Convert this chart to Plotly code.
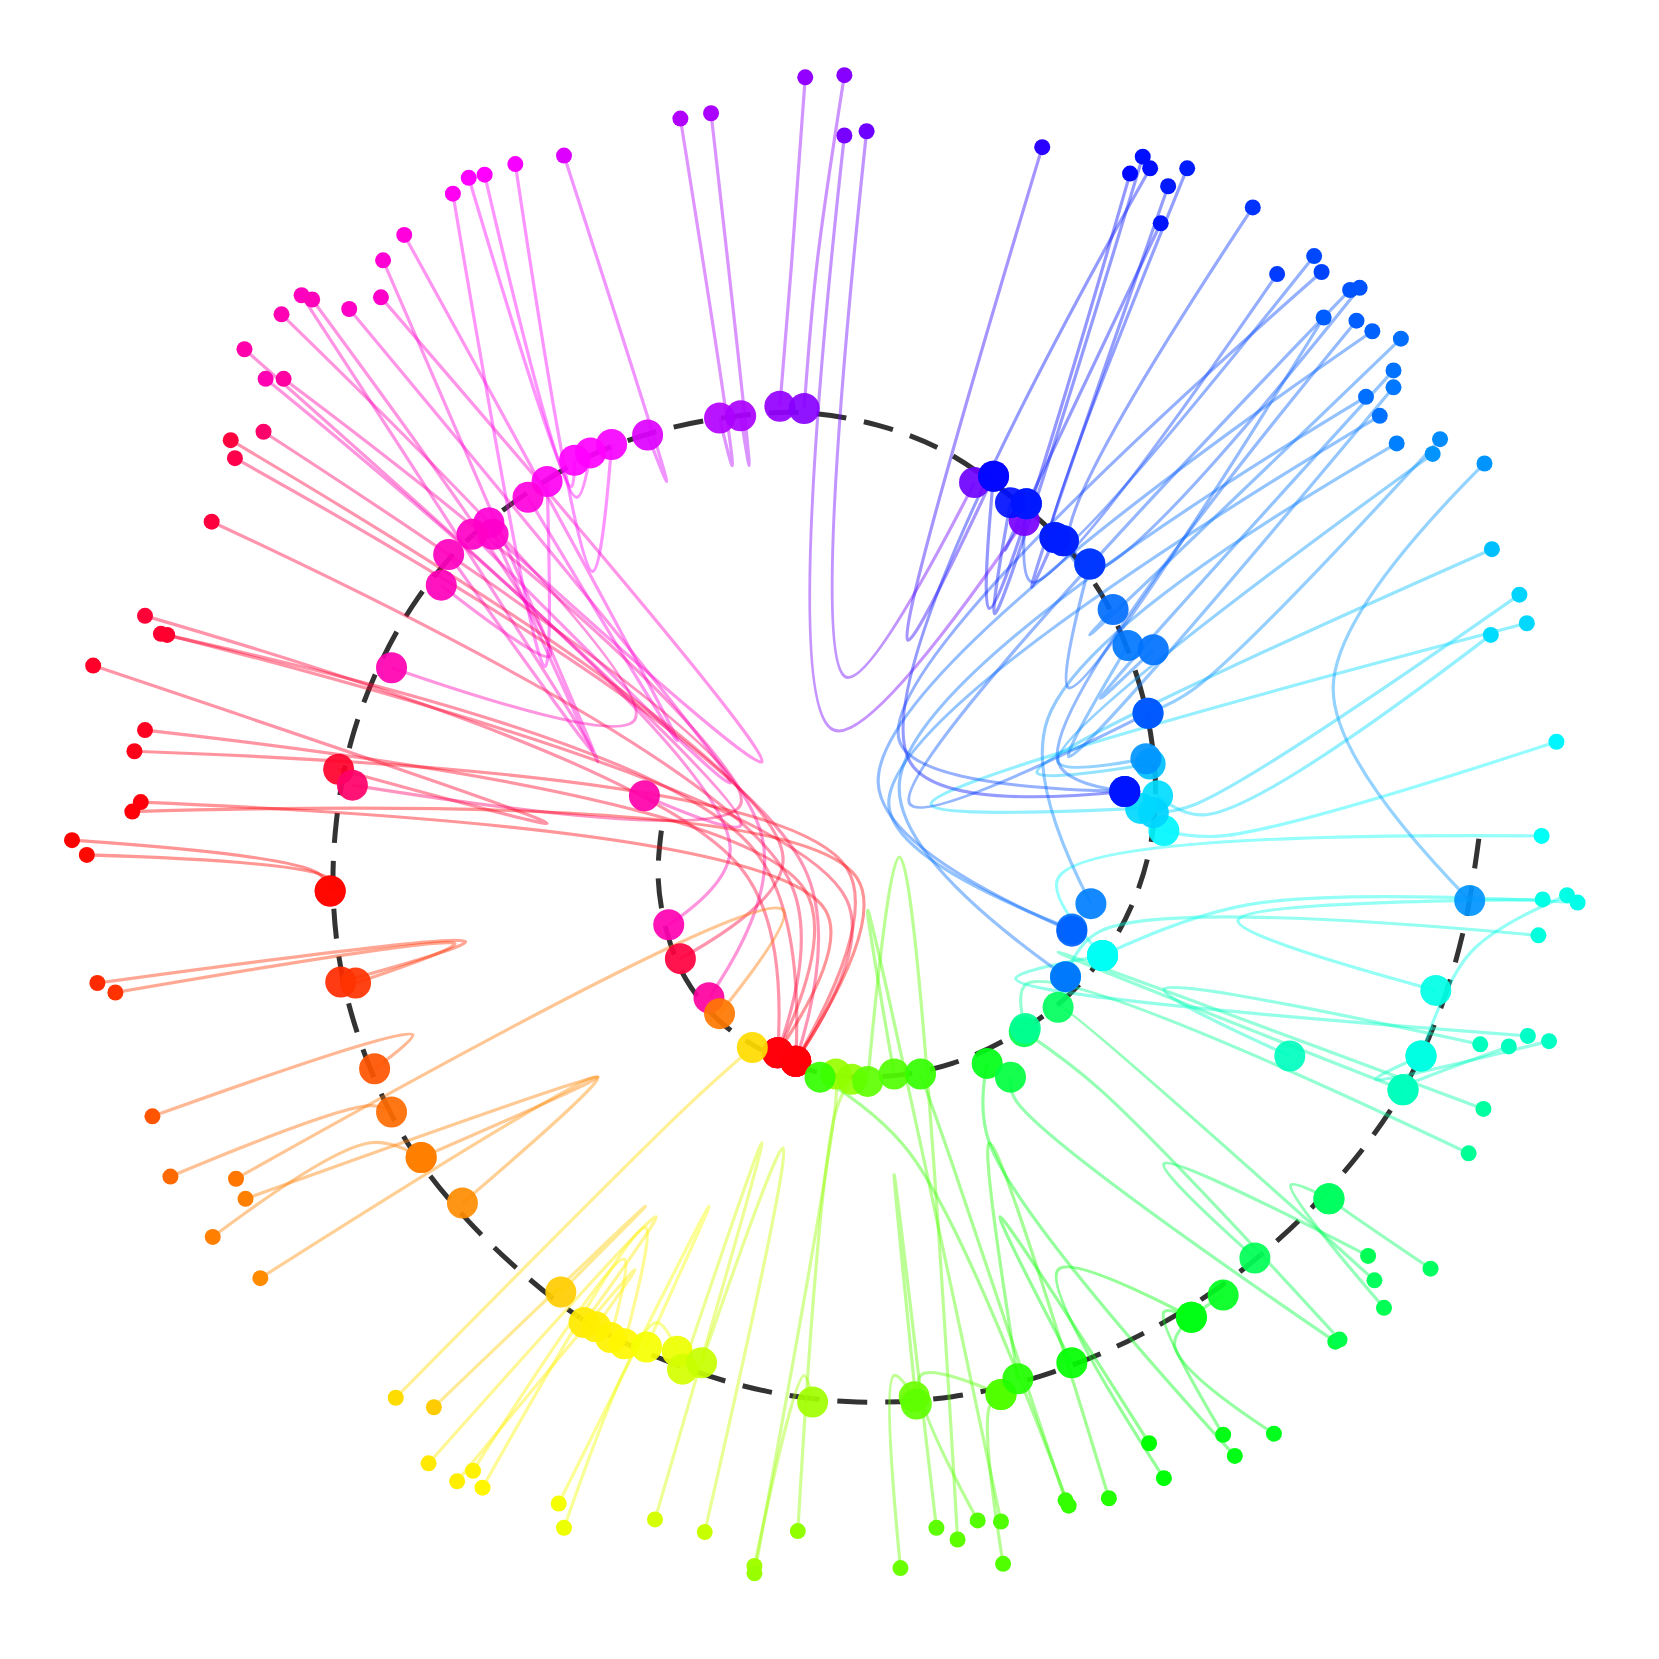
import colorsys
import plotly.graph_objects as go

# particle data: start (small dot), turning point, end (big dot on spiral), hue in degrees
start_x = [761, 798, 643, 672, 798, 819, 985, 533, 487, 458, 443, 428, 382, 362, 360, 330, 285, 295, 266, 231,
           251, 268, 218, 88, 249, 222, 200, 137, 152, 158, 137, 127, 133, 125, 68, 82, 92, 109, 144, 161,
           223, 232, 201, 246, 374, 410, 405, 432, 447, 456, 528, 533, 619, 666, 713, 713, 754, 851, 885, 905,
           924, 946, 948, 1007, 1010, 1048, 1086, 1100, 1156, 1167, 1204, 1262, 1266, 1308, 1299, 1293, 1352, 1388, 1402, 1399,
           1426, 1444, 1464, 1454, 1458, 1481, 1491, 1457, 1471, 1409, 1436, 1443, 1410, 1403, 1354, 1361, 1320, 1304, 1291, 1317,
           1317, 1324, 1297, 1282, 1251, 1276, 1285, 1242, 1249, 1207, 1184, 1080, 1087, 1068, 1104, 1122, 1097]
start_y = [73, 71, 112, 107, 128, 124, 139, 147, 155, 165, 168, 183, 222, 246, 281, 292, 279, 283, 297, 330,
           358, 358, 416, 629, 408, 433, 493, 582, 599, 600, 690, 710, 758, 767, 794, 808, 929, 938, 1055, 1112,
           1114, 1133, 1169, 1208, 1321, 1330, 1383, 1400, 1390, 1406, 1421, 1444, 1436, 1448, 1480, 1487, 1447, 1482, 1444, 1455,
           1437, 1438, 1478, 1418, 1423, 1416, 1364, 1397, 1356, 1376, 1355, 1268, 1266, 1236, 1210, 1187, 1199, 1090, 1048, 987,
           989, 979, 984, 884, 850, 846, 853, 790, 701, 600, 562, 589, 519, 438, 429, 415, 419, 393, 375, 366,
           350, 320, 313, 303, 300, 274, 272, 242, 257, 259, 196, 148, 159, 164, 176, 159, 211]
turn_x = [748, 772, 692, 708, 788, 800, 858, 630, 560, 545, 540, 515, 640, 565, 720, 690, 560, 520, 600, 700,
          690, 720, 740, 517, 700, 760, 745, 700, 710, 800, 760, 800, 780, 810, 300, 310, 440, 430, 390, 350,
          740, 565, 350, 565, 650, 610, 620, 600, 590, 610, 670, 620, 720, 740, 760, 790, 790, 845, 845, 850,
          870, 820, 935, 900, 860, 935, 945, 1000, 1100, 935, 1110, 960, 1040, 1220, 1000, 1100, 1280, 970, 1000, 1100,
          1320, 960, 1300, 1040, 1170, 1390, 1180, 1000, 1155, 1140, 1130, 880, 980, 1260, 1000, 1130, 990, 840, 850, 1010,
          1040, 1030, 830, 1000, 1010, 860, 1030, 1000, 850, 975, 1010, 940, 860, 935, 975, 990, 950]
turn_y = [250, 250, 440, 440, 690, 640, 605, 455, 540, 470, 460, 630, 700, 720, 720, 740, 710, 620, 680, 780,
          800, 790, 810, 778, 760, 820, 830, 820, 800, 850, 840, 820, 860, 830, 825, 830, 890, 892, 978, 1045,
          860, 1018, 1080, 1018, 1045, 1140, 1150, 1200, 1190, 1160, 1140, 1250, 1080, 1085, 1300, 1040, 1050, 1300, 1110, 810,
          1300, 860, 1330, 1100, 1090, 1080, 1150, 1200, 1240, 1080, 1270, 1040, 1030, 1120, 950, 1100, 1150, 930, 900, 935,
          1030, 925, 1020, 880, 870, 900, 855, 830, 790, 770, 760, 760, 730, 650, 720, 650, 680, 760, 740, 715,
          660, 600, 740, 720, 650, 760, 540, 520, 700, 550, 510, 580, 720, 575, 555, 520, 520]
end_x = [737, 760, 680, 700, 968, 921, 939, 612, 578, 558, 543, 517, 499, 462, 466, 446, 424, 417, 370, 609,
         632, 670, 643, 320, 333, 752, 735, 735, 752, 752, 735, 752, 735, 752, 312, 312, 322, 336, 354, 370,
         680, 398, 398, 437, 711, 530, 552, 563, 577, 590, 611, 640, 645, 663, 768, 790, 805, 864, 866, 820,
         946, 845, 946, 870, 775, 962, 1013, 1126, 1126, 933, 1156, 955, 968, 1256, 1000, 1186, 1256, 969, 1326, 1219,
         1326, 1042, 1343, 1007, 1357, 1343, 1042, 1042, 1100, 1094, 1090, 1078, 1087, 1389, 1083, 1085, 1031, 1013, 1007, 1066,
         1090, 1052, 1013, 1063, 1030, 1085, 1005, 997, 1063, 970, 1030, 955, 1063, 939, 997, 1005, 970]
end_y = [384, 386, 395, 393, 492, 456, 450, 411, 420, 428, 435, 455, 470, 494, 505, 505, 524, 553, 631, 752,
         874, 943, 906, 727, 742, 1003, 995, 995, 1003, 1003, 995, 1003, 995, 1003, 842, 842, 928, 929, 1010, 1051,
         958, 1094, 1094, 1137, 990, 1221, 1250, 1254, 1264, 1270, 1273, 1277, 1294, 1288, 1325, 1015, 1020, 1320, 1327, 1022,
         1318, 1015, 1318, 1015, 1018, 1303, 1288, 1245, 1245, 1005, 1224, 1018, 975, 1133, 952, 1189, 1133, 972, 1030, 998,
         1030, 903, 998, 923, 936, 998, 903, 903, 785, 752, 768, 764, 722, 851, 717, 674, 854, 878, 923, 610,
         614, 576, 880, 748, 533, 674, 511, 508, 748, 476, 533, 475, 748, 450, 508, 511, 476]
hue = [275, 272, 282, 280, 268, 266, 250, 292, 298, 300, 300, 303, 308, 310, 312, 313, 315, 316, 318, 320,
       318, 322, 345, 350, 335, 342, 345, 347, 348, 349, 352, 354, 357, 358, 0, 2, 10, 12, 20, 25,
       28, 30, 30, 33, 52, 48, 55, 56, 57, 58, 62, 64, 70, 73, 82, 84, 86, 95, 98, 98,
       100, 101, 101, 108, 108, 112, 120, 122, 125, 125, 127, 135, 138, 140, 142, 140, 143, 155, 158, 165,
       165, 167, 166, 172, 174, 174, 175, 178, 182, 188, 190, 189, 195, 205, 205, 207, 210, 213, 214, 212,
       213, 214, 217, 218, 218, 220, 220, 223, 224, 226, 228, 236, 236, 238, 234, 233, 235]

# dashed spiral path
spiral_x = [625, 622, 630, 648, 680, 725, 780, 840, 900, 955, 1005, 1045, 1072, 1088, 1092, 1085, 1068, 1040, 1000, 950,
            890, 830, 760, 690, 620, 555, 495, 440, 395, 358, 332, 318, 315, 325, 350, 385, 430, 490, 560, 640,
            725, 810, 900, 985, 1065, 1140, 1210, 1270, 1320, 1357, 1383, 1398]
spiral_y = [785, 830, 880, 925, 965, 995, 1015, 1017, 1005, 980, 945, 900, 850, 795, 740, 680, 620, 560, 508, 465,
            425, 402, 390, 394, 408, 432, 468, 512, 565, 630, 700, 775, 850, 930, 1010, 1080, 1140, 1200, 1253, 1290,
            1315, 1325, 1320, 1300, 1268, 1225, 1170, 1108, 1040, 965, 880, 790]


def hue_color(h, a=1.0):
    r, g, b = colorsys.hsv_to_rgb((h % 360) / 360.0, 1.0, 1.0)
    return f"rgba({int(r*255)},{int(g*255)},{int(b*255)},{a})"


fig = go.Figure()

fig.add_trace(go.Scatter(x=spiral_x, y=spiral_y, mode="lines", hoverinfo="skip",
                         line=dict(color="#333333", width=5, dash="30px,18px", shape="spline")))

for i in range(len(start_x)):
    fig.add_trace(go.Scatter(
        x=[start_x[i], turn_x[i], end_x[i]],
        y=[start_y[i], turn_y[i], end_y[i]],
        mode="lines", hoverinfo="skip",
        line=dict(color=hue_color(hue[i], 0.42), width=3.2, shape="spline", smoothing=1.0)))

fig.add_trace(go.Scatter(x=start_x, y=start_y, mode="markers", hoverinfo="skip",
                         marker=dict(size=16, color=[hue_color(h) for h in hue], line=dict(width=0))))
fig.add_trace(go.Scatter(x=end_x, y=end_y, mode="markers", hoverinfo="skip",
                         marker=dict(size=31, color=[hue_color(h, 0.92) for h in hue], line=dict(width=0))))

fig.update_layout(width=1659, height=1659, showlegend=False,
                  margin=dict(l=0, r=0, t=0, b=0),
                  paper_bgcolor="white", plot_bgcolor="white")
# offset the ranges to compensate for the page's default body margin
fig.update_xaxes(range=[7.5, 1575.5], visible=False)
fig.update_yaxes(range=[1575.5, 7.5], visible=False)

fig.write_html("out.html")
